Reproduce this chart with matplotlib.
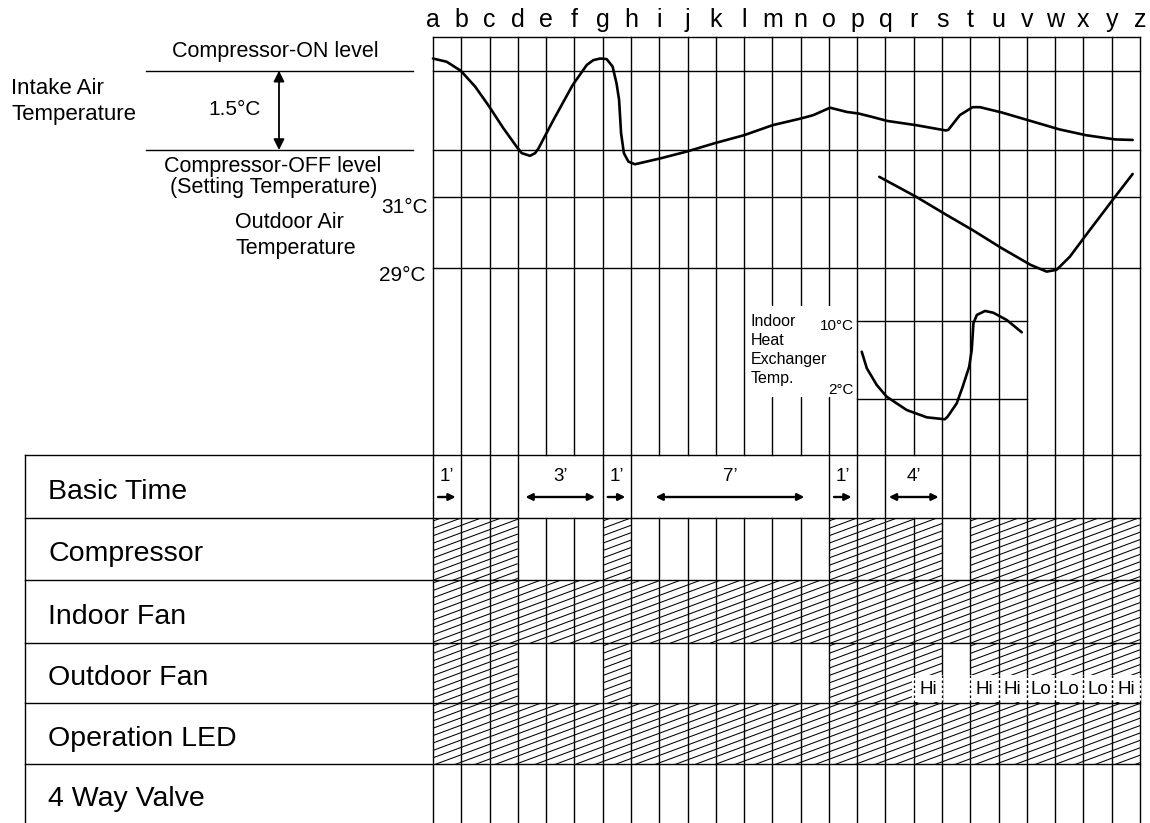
import numpy as np
import matplotlib
matplotlib.use("Agg")
import matplotlib.pyplot as plt
from matplotlib.patches import Rectangle
from matplotlib.collections import LineCollection

plt.rcParams['font.family'] = ['Liberation Sans', 'DejaVu Sans']

# ---- data (x = position along the time grid, a = 0 ... z = 25) ----
letters = list("abcdefghijklmnopqrstuvwxyz")

# intake air temp, degC above setting (compressor-OFF level)
on_level = 1.5
intake_x = [0.0, 0.48, 0.98, 1.49, 1.99, 2.49, 2.96, 3.14, 3.43, 3.61, 3.73, 4.26,
            4.94, 5.44, 5.67, 5.91, 6.14, 6.35, 6.49, 6.58, 6.65, 6.75, 6.91, 7.14,
            8.03, 8.97, 9.97, 11.0, 12.01, 13.04, 13.45, 14.04, 14.63, 15.05, 15.57,
            16.06, 17.08, 18.13, 18.22, 18.63, 19.08, 19.34, 20.11, 21.13, 22.15,
            23.09, 24.12, 24.74]
intake_t = [1.73, 1.67, 1.50, 1.20, 0.82, 0.41, 0.06, -0.06, -0.11, -0.06, 0.03, 0.57,
            1.23, 1.61, 1.70, 1.73, 1.72, 1.58, 1.26, 0.95, 0.32, -0.06, -0.22, -0.27,
            -0.16, -0.03, 0.13, 0.28, 0.47, 0.60, 0.66, 0.80, 0.72, 0.69, 0.62,
            0.55, 0.47, 0.37, 0.38, 0.66, 0.81, 0.81, 0.71, 0.55, 0.39,
            0.28, 0.20, 0.19]

outdoor_x = [15.78, 17.08, 18.13, 19.08, 20.11, 21.13, 21.70, 22.05, 22.52, 23.09, 24.12, 24.74]
outdoor_t = [31.56, 31.0, 30.50, 30.06, 29.55, 29.08, 28.89, 28.94, 29.31, 29.92, 31.0, 31.64]

hex_x = [15.16, 15.34, 15.69, 16.04, 16.75, 17.46, 18.10, 18.20, 18.52, 18.73, 18.96,
         19.05, 19.11, 19.23, 19.52, 19.81, 20.29, 20.82]
hex_t = [6.85, 5.15, 3.44, 2.24, 0.87, 0.12, -0.08, 0.2, 1.56, 3.26, 5.31,
         7.03, 9.76, 10.62, 11.03, 10.85, 10.10, 8.84]

row_names = ["Basic Time", "Compressor", "Indoor Fan", "Outdoor Fan",
             "Operation LED", "4 Way Valve"]
basic_spans = [(0, 1), (3, 6), (6, 7), (7, 14), (14, 15), (16, 18)]
basic_minutes = ["1\u2019", "3\u2019", "1\u2019", "7\u2019", "1\u2019", "4\u2019"]
compressor_on = [(0, 3), (6, 7), (14, 18), (19, 25)]
indoor_fan_on = [(0, 25)]
outdoor_fan_on = [(0, 3), (6, 7), (14, 18), (19, 25)]
led_on = [(0, 25)]
valve_on = []
fan_cols = [17, 19, 20, 21, 22, 23, 24]
fan_speed = ["Hi", "Hi", "Hi", "Lo", "Lo", "Lo", "Hi"]

# ---- layout (pixel rows) ----
W, H = 1150, 823
X0, DX = 433, (1140 - 433) / 25.0
def cx(p):
    return (p - X0) / DX

row_y = [455, 518, 580, 643, 703, 764, H]
GTOP = 37
LW = 1.0

fig = plt.figure(figsize=(11.5, 8.23), dpi=100)
ax = fig.add_axes([0, 0, 1, 1])
ax.set_xlim(cx(0), cx(W))
ax.set_ylim(H, 0)
ax.axis('off')

def temp_axes(t_hi, y_hi, t_lo, y_lo):
    a = fig.add_axes([0, 0, 1, 1], sharex=ax)
    k = (t_hi - t_lo) / (y_lo - y_hi)
    a.set_ylim(t_lo - (H - y_lo) * k, t_lo + y_lo * k)
    a.axis('off')
    return a

ax_in = temp_axes(on_level, 70.7, 0.0, 150)
ax_out = temp_axes(31, 196.7, 29, 267.7)
ax_hex = temp_axes(10, 321, 2, 399)

# grid
skip = {c for a, b in basic_spans for c in range(a + 1, b)}
for i in range(26):
    ax.plot([i, i], [GTOP, row_y[0]], color='black', lw=LW)
    ax.plot([i, i], [row_y[1], H], color='black', lw=LW)
    if i not in skip:
        ax.plot([i, i], [row_y[0], row_y[1]], color='black', lw=LW)
    ax.text(i, 27, letters[i], ha='center', va='baseline', fontsize=18)
ax.plot([0, 25], [GTOP, GTOP], color='black', lw=LW)
for y in row_y[:-1]:
    ax.plot([cx(25), 25], [y, y], color='black', lw=LW)
ax.plot([cx(25), cx(25)], [row_y[0], H], color='black', lw=LW)

# white box behind the indoor heat exchanger label
ax.add_patch(Rectangle((cx(746), 306), cx(856) - cx(746), 91, fc='white', ec='none', zorder=3))

# temperature reference lines
for lv in [on_level, 0.0]:
    ax_in.plot([0, 25], [lv, lv], color='black', lw=LW)
    ax_in.plot([cx(146), cx(413)], [lv, lv], color='black', lw=LW)
for lv in [31, 29]:
    ax_out.plot([0, 25], [lv, lv], color='black', lw=LW)
for lv in [10, 2]:
    ax_hex.plot([15, 21], [lv, lv], color='black', lw=LW)

# curves
ax_in.plot(intake_x, intake_t, color='black', lw=1.9, solid_joinstyle='round', solid_capstyle='round')
ax_out.plot(outdoor_x, outdoor_t, color='black', lw=1.9, solid_joinstyle='round', solid_capstyle='round')
ax_hex.plot(hex_x, hex_t, color='black', lw=1.9, solid_joinstyle='round', solid_capstyle='round')

# left-hand texts
ax.text(cx(275), 57, "Compressor-ON level", ha='center', va='baseline', fontsize=15.5)
ax.text(cx(11), 94, "Intake Air", ha='left', va='baseline', fontsize=16)
ax.text(cx(11), 120, "Temperature", ha='left', va='baseline', fontsize=16)
ax.text(cx(235), 115, "1.5\u00b0C", ha='center', va='baseline', fontsize=15)
ax.annotate('', xy=(cx(279), 70.7), xytext=(cx(279), 150),
            arrowprops=dict(arrowstyle='<|-|>', color='black', lw=1.3,
                            mutation_scale=16, shrinkA=0, shrinkB=0))
ax.text(cx(273), 171.5, "Compressor-OFF level", ha='center', va='baseline', fontsize=15.5)
ax.text(cx(273.5), 192.5, "(Setting Temperature)", ha='center', va='baseline', fontsize=15.5)
ax.text(cx(428), 213, "31\u00b0C", ha='right', va='baseline', fontsize=15)
ax.text(cx(235), 228, "Outdoor Air", ha='left', va='baseline', fontsize=15.5)
ax.text(cx(235), 254, "Temperature", ha='left', va='baseline', fontsize=15.5)
ax.text(cx(426), 281, "29\u00b0C", ha='right', va='baseline', fontsize=15)
for k, s in enumerate(["Indoor", "Heat", "Exchanger", "Temp."]):
    ax.text(cx(751), 326 + 19 * k, s, ha='left', va='baseline', fontsize=11.5, zorder=4)
ax.text(cx(854), 330, "10\u00b0C", ha='right', va='baseline', fontsize=11, zorder=4)
ax.text(cx(854), 394, "2\u00b0C", ha='right', va='baseline', fontsize=11, zorder=4)

# table rows
for k, name in enumerate(row_names):
    ax.text(cx(48), (row_y[k] + row_y[k + 1]) / 2 + 12, name, ha='left', va='baseline', fontsize=20.5)

for (a, b), lab in zip(basic_spans, basic_minutes):
    ax.text((a + b) / 2, 481, lab, ha='center', va='baseline', fontsize=13.5)
    if b - a == 1:
        x0, x1, st = a + 0.18, a + 0.8, '-|>'
    else:
        pad = 0.15 * (b - a) - 0.18
        x0, x1, st = a + pad, b - pad, '<|-|>'
    ax.annotate('', xy=(x1, 497), xytext=(x0, 497),
                arrowprops=dict(arrowstyle=st, color='black', lw=1.7,
                                mutation_scale=10, shrinkA=0, shrinkB=0))

def hatch(a, b, y0, y1):
    rect = Rectangle((a, y0), b - a, y1 - y0, fill=False, lw=0)
    ax.add_patch(rect)
    rise = 0.37 * DX * (b - a)
    segs = [[(a, s), (b, s - rise)] for s in np.arange(y0 + 3, y1 + rise + 8, 7.4)]
    lc = LineCollection(segs, colors='black', linewidths=0.75)
    ax.add_collection(lc)
    lc.set_clip_path(rect)

for k, spans in enumerate([compressor_on, indoor_fan_on, outdoor_fan_on, led_on, valve_on]):
    for a, b in spans:
        hatch(a, b, row_y[k + 1], row_y[k + 2])

for c, lab in zip(fan_cols, fan_speed):
    ax.add_patch(Rectangle((c - 0.05, 675), 1.1, 27, fc='white', ec='none', zorder=4))
    for xe in [c, c + 1]:
        ax.plot([xe, xe], [675, 702], color='black', lw=0.9, dashes=(2, 2), zorder=5)
    ax.text(c + 0.5, 689, lab, ha='center', va='center', fontsize=13.5, zorder=6)

fig.savefig("out.png", dpi=100)
